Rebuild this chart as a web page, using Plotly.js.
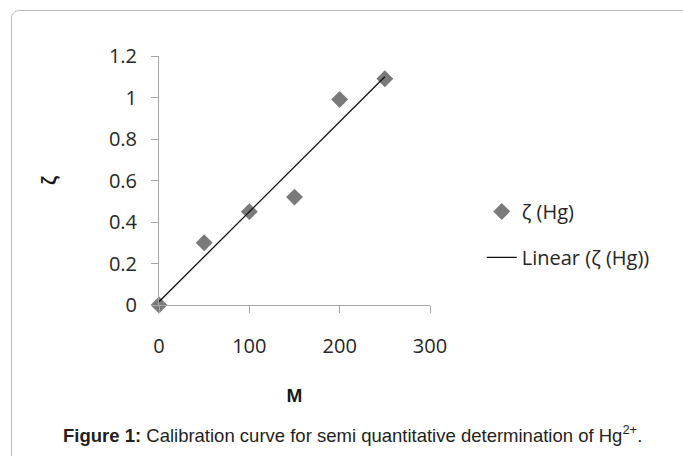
<!DOCTYPE html>
<html>
<head>
<meta charset="utf-8">
<script src="https://cdn.plot.ly/plotly-3.0.1.min.js"></script>
<style>
  html, body { margin: 0; padding: 0; background: #fff; overflow: hidden; }
  #chart { position: absolute; left: 0; top: 0; width: 683px; height: 456px; }
  #frame { position: absolute; left: 11px; top: 10px; width: 720px; height: 500px;
           border: 1px solid #bdbdbd; border-radius: 8px; pointer-events: none; }
</style>
</head>
<body>
<div id="chart"></div>
<div id="frame"></div>
<script>
// Data
const concentrationM = [0, 50, 100, 150, 200, 250];
const zetaHg = [0, 0.30, 0.45, 0.52, 0.99, 1.09];
// Linear trendline endpoints
const trendX = [0, 250];
const trendY = [0.016, 1.10];

const seriesName = 'ζ (Hg)';
const trendName = 'Linear (ζ (Hg))';
const xTickVals = [0, 100, 200, 300];
const yTickVals = [0, 0.2, 0.4, 0.6, 0.8, 1, 1.2];

const tickFont = { family: 'Open Sans, sans-serif', size: 20, color: '#262626' };
const titleFont = { family: 'Liberation Sans, Arial, sans-serif', size: 19, color: '#1a1a1a' };

const traces = [
  {
    x: concentrationM, y: zetaHg, name: seriesName, type: 'scatter', mode: 'markers',
    legendgroup: 'a', cliponaxis: false,
    marker: { symbol: 'diamond', size: 13, color: '#7a7a7a' }
  },
  {
    x: trendX, y: trendY, name: trendName, type: 'scatter', mode: 'lines',
    legendgroup: 'b', cliponaxis: false,
    line: { color: '#111111', width: 1.3 }
  }
];

const layout = {
  width: 683, height: 456,
  margin: { l: 159, r: 253, t: 56, b: 151 },
  paper_bgcolor: '#ffffff', plot_bgcolor: '#ffffff',
  showlegend: true,
  legend: {
    x: 1.191, xanchor: 'left', y: 0.454, yanchor: 'top',
    font: tickFont, tracegroupgap: 17, bgcolor: 'rgba(0,0,0,0)'
  },
  xaxis: {
    range: [0, 300], tickvals: xTickVals, ticks: 'outside', ticklen: 7, tickcolor: '#a6a6a6',
    showline: true, linecolor: '#a6a6a6', linewidth: 1, showgrid: false, zeroline: false,
    tickfont: tickFont, ticklabelstandoff: 16,
    title: { text: '<b>M</b>', font: titleFont, standoff: 30 }
  },
  yaxis: {
    range: [0, 1.2], tickvals: yTickVals, ticks: 'outside', ticklen: 7, tickcolor: '#a6a6a6',
    showline: true, linecolor: '#a6a6a6', linewidth: 1, showgrid: false, zeroline: false,
    tickfont: tickFont, ticklabelstandoff: 10,
    title: { text: '<b>ζ</b>', font: { family: titleFont.family, size: 20, color: '#1a1a1a' }, standoff: 46 }
  },
  annotations: [
    {
      xref: 'paper', yref: 'paper', x: 0.714, y: -0.52, xanchor: 'center', yanchor: 'middle',
      showarrow: false,
      text: '<b>Figure 1:</b> Calibration curve for semi quantitative determination of Hg<sup>2+</sup>.',
      font: { family: 'Liberation Sans, Arial, sans-serif', size: 18.5, color: '#231f20' }
    }
  ]
};

Plotly.newPlot('chart', traces, layout, { staticPlot: true });
</script>
</body>
</html>
